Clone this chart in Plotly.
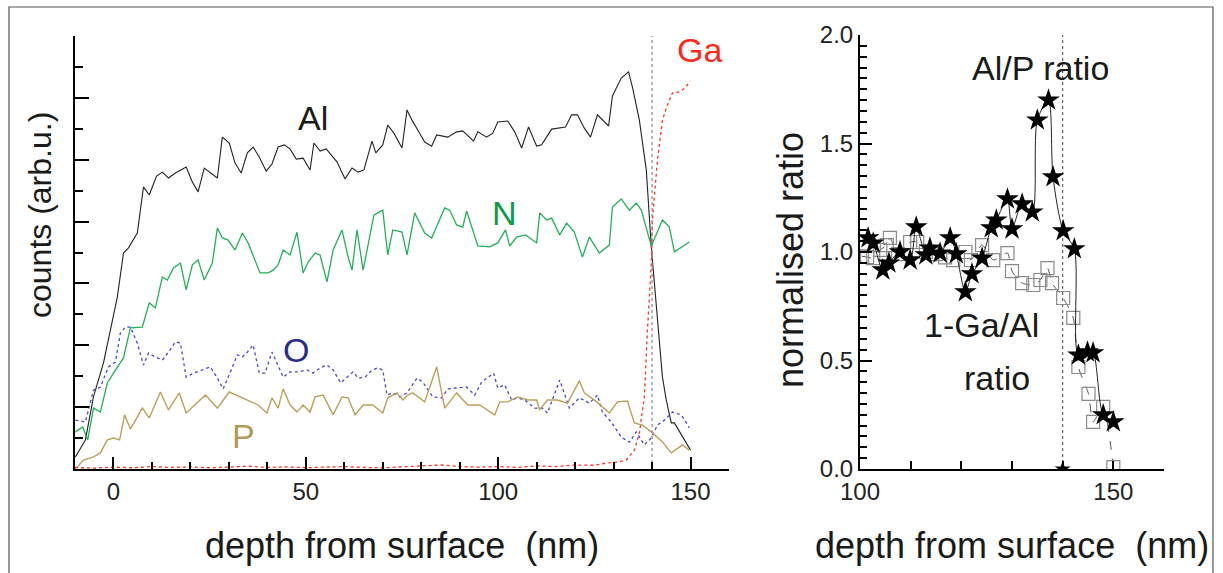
import plotly.graph_objects as go

# ---- left panel: depth profiles (counts, arb. units) ----
al_depth = [-9.9, -7.3, -5.2, -2.6, 1.0, 2.6, 3.9, 6.2, 7.8, 9.3, 11.2, 12.7, 14.3, 16.1, 18.9, 20.5, 22.0, 23.6,
            27.0, 28.3, 30.1, 31.6, 33.2, 34.8, 36.3, 37.9, 39.7, 41.2, 42.8, 44.4, 45.9, 47.5, 49.3, 51.1, 52.1,
            53.7, 55.3, 58.1, 60.2, 62.0, 63.6, 65.1, 67.2, 68.2, 70.0, 71.3, 72.9, 75.0, 76.3, 77.6, 79.1, 80.9,
            82.7, 84.0, 86.9, 89.2, 90.8, 93.6, 94.7, 97.0, 98.6, 99.9, 102.5, 104.3, 106.1, 107.9, 110.0, 111.3,
            113.9, 117.5, 119.1, 120.6, 122.4, 124.0, 125.8, 128.7, 129.7, 132.0, 133.9, 134.9, 136.7, 138.5,
            139.8, 142.7, 143.7, 145.0, 145.8, 147.9, 150.0]
al_counts = [0.39, 0.94, 2.33, 3.43, 5.56, 6.98, 7.15, 7.63, 9.12, 8.86, 9.47, 9.60, 9.41, 9.57, 9.76, 9.28, 8.96, 9.73,
             9.41, 10.73, 10.54, 9.89, 9.57, 10.22, 10.41, 10.09, 9.63, 9.86, 10.41, 10.48, 10.35, 10.02, 10.05, 9.67,
             10.54, 10.28, 10.35, 9.93, 9.38, 9.73, 9.60, 9.67, 10.60, 10.22, 10.48, 11.12, 10.86, 10.38, 11.61, 11.28,
             10.96, 10.57, 10.44, 10.80, 10.73, 10.90, 10.93, 10.60, 10.90, 10.73, 10.86, 11.22, 11.25, 10.90, 10.38,
             11.06, 10.44, 10.48, 10.99, 11.06, 11.45, 11.45, 11.02, 10.73, 11.45, 11.09, 12.06, 12.64, 12.84, 12.35,
             11.28, 9.67, 7.18, 2.97, 2.23, 1.49, 1.49, 1.03, 0.61]

n_depth = [-9.9, -8.0, -6.7, -5.2, -3.4, -1.6, 0.0, 2.6, 4.4, 7.5, 9.3, 10.9, 12.7, 14.0, 15.6, 17.4, 18.9, 20.5,
           22.0, 23.6, 25.7, 27.0, 28.3, 29.8, 31.6, 33.5, 35.0, 36.3, 38.1, 40.2, 41.5, 42.8, 44.1, 45.9, 47.7,
           49.3, 50.6, 52.4, 53.7, 55.5, 57.1, 59.4, 61.0, 62.0, 63.3, 64.9, 67.7, 70.0, 71.3, 72.6, 75.0, 76.3,
           78.3, 80.9, 82.7, 86.1, 87.4, 89.2, 90.8, 91.8, 94.7, 97.8, 99.9, 101.9, 103.0, 104.8, 107.1, 110.0,
           110.8, 112.6, 113.9, 116.0, 117.8, 119.8, 121.9, 123.7, 126.3, 128.9, 129.7, 132.0, 134.1, 135.9,
           137.2, 139.8, 142.7, 144.5, 145.8, 149.7]
n_counts = [1.20, 1.36, 0.94, 1.97, 1.84, 2.78, 3.10, 3.59, 4.56, 4.59, 5.37, 5.21, 6.21, 6.11, 6.50, 6.66, 5.79, 6.60,
            6.76, 6.11, 6.66, 7.79, 7.47, 7.40, 7.08, 7.63, 7.31, 6.92, 6.34, 6.34, 6.43, 6.60, 7.08, 6.92, 7.66,
            6.34, 6.69, 6.98, 6.92, 6.05, 7.08, 7.73, 6.85, 6.43, 7.73, 6.43, 8.21, 8.37, 6.92, 7.73, 7.66, 6.92,
            8.28, 7.63, 7.47, 8.44, 8.37, 7.89, 7.82, 8.34, 7.21, 7.18, 7.31, 7.73, 7.21, 7.50, 7.57, 7.31,
            8.28, 8.05, 8.11, 7.57, 7.95, 7.66, 6.85, 7.50, 6.98, 7.24, 8.47, 8.73, 8.37, 8.60,
            8.37, 7.21, 8.05, 7.82, 7.02, 7.34]

o_depth = [-9.9, -7.3, -5.2, -3.4, -1.3, 0.5, 1.8, 3.1, 4.4, 6.2, 7.8, 9.1, 10.9, 12.7, 14.3, 16.1, 17.4, 18.9,
           20.8, 23.1, 25.2, 27.0, 28.5, 30.4, 32.2, 33.5, 34.8, 36.3, 37.9, 39.4, 41.2, 42.5, 44.1, 45.9, 48.0,
           50.3, 51.9, 53.7, 55.5, 57.1, 59.1, 60.7, 62.3, 63.6, 65.4, 67.2, 68.7, 70.0, 71.1, 72.6, 74.4, 76.3,
           78.9, 80.4, 83.0, 85.3, 86.9, 89.2, 91.8, 93.9, 95.7, 98.8, 99.9, 101.7, 103.5, 105.1, 106.9, 109.5,
           111.5, 112.8, 116.0, 118.5, 121.1, 123.7, 125.8, 127.1, 129.4, 132.0, 134.1, 135.9, 138.0, 139.8,
           141.4, 143.2, 145.3, 147.6, 149.7]
o_counts = [1.58, 1.52, 2.55, 2.65, 3.30, 3.46, 4.40, 4.59, 4.59, 4.07, 3.36, 3.75, 3.62, 3.52, 3.78, 4.11, 4.07, 2.97,
            3.10, 3.20, 3.30, 2.94, 2.59, 3.14, 3.69, 3.62, 3.78, 4.01, 3.10, 3.10, 3.78, 3.43, 2.97, 3.14, 3.14,
            3.20, 3.10, 3.27, 3.36, 3.20, 2.78, 2.97, 3.14, 2.94, 2.97, 3.20, 3.27, 3.20, 2.39, 2.46, 2.33, 2.46,
            2.94, 2.81, 2.33, 2.30, 2.59, 2.62, 2.65, 2.39, 2.81, 3.10, 2.62, 2.72, 2.23, 2.30, 2.23, 1.97,
            1.97, 1.81, 2.88, 1.97, 2.30, 2.13, 2.39, 1.84, 1.52, 1.03, 0.87, 1.20, 0.78, 1.00,
            1.42, 1.58, 1.84, 1.75, 1.33]

p_depth = [-9.9, -7.8, -5.2, -3.4, -1.6, 0.0, 1.6, 2.9, 4.4, 7.5, 9.3, 12.2, 14.3, 17.1, 18.9, 21.8, 23.9, 27.0,
           30.1, 34.8, 37.6, 39.9, 41.2, 42.8, 44.1, 45.9, 47.7, 49.3, 51.1, 52.4, 54.5, 57.1, 59.4, 61.0, 62.8,
           64.9, 67.4, 70.0, 71.3, 73.7, 75.2, 76.5, 77.8, 80.9, 84.0, 86.1, 89.2, 92.1, 95.2, 99.1, 100.4, 102.5,
           105.1, 107.7, 110.0, 110.8, 112.8, 115.4, 118.0, 121.1, 122.4, 125.6, 128.9, 131.0, 133.6, 135.4, 137.5,
           139.8, 142.7, 145.0, 147.9, 149.7]
p_counts = [0.00, 0.29, 0.39, 0.52, 0.94, 1.00, 0.94, 1.75, 1.29, 1.97, 1.65, 2.49, 1.91, 2.46, 1.81, 2.13, 2.39, 1.97,
            2.49, 2.23, 2.07, 1.81, 2.30, 1.97, 2.59, 2.07, 1.84, 2.07, 1.84, 2.33, 2.39, 1.75, 2.33, 2.30, 1.75,
            2.07, 2.07, 1.81, 2.30, 2.46, 2.23, 2.39, 2.46, 2.17, 3.30, 1.97, 2.46, 2.07, 2.07, 1.75, 2.17, 2.17,
            2.33, 2.23, 2.23, 1.91, 2.23, 2.23, 2.13, 2.85, 2.46, 2.17, 1.81, 2.17, 2.20, 1.49, 1.42,
            1.20, 0.87, 0.52, 0.78, 0.61]

ga_depth = [-10, -5, 0, 5, 10, 15, 20, 25, 30, 35, 40, 45, 50, 55, 60, 65, 70, 75, 80, 85, 90, 95, 100, 105, 110,
            115, 120, 125, 128, 131, 133.3, 135.4, 136.7, 138.0, 138.8, 139.8, 140.1, 141.4, 142.7, 143.7, 145.3,
            147.1, 148.6, 149.9]
ga_counts = [0.05, 0.03, 0.06, 0.04, 0.08, 0.05, 0.07, 0.04, 0.06, 0.09, 0.05, 0.07, 0.04, 0.06, 0.08, 0.05, 0.04,
             0.07, 0.09, 0.13, 0.08, 0.06, 0.08, 0.05, 0.10, 0.08, 0.13, 0.12, 0.19, 0.22, 0.29, 0.61, 1.16, 2.33,
             4.49, 6.66, 8.05, 9.99, 11.28, 11.67, 12.16, 12.19, 12.32, 12.54]

interface_depth = 140

# ---- right panel: normalised ratios ----
alp_depth = [101.6, 102.6, 104.5, 105.7, 107.9, 109.9, 111.1, 113.0, 113.8, 115.8, 117.8, 119.0, 120.8, 122.1,
             124.1, 125.9, 126.9, 129.1, 130.0, 132.0, 134.0, 135.0, 137.2, 138.1, 140.1, 142.3, 143.1, 144.9,
             146.0, 148.0, 150.0]
alp_ratio = [1.065, 1.041, 0.917, 0.949, 1.000, 0.963, 1.115, 0.986, 1.018, 0.995, 1.065, 0.991, 0.816, 0.899,
             0.972, 1.111, 1.147, 1.244, 1.106, 1.221, 1.184, 1.608, 1.700, 1.346, 1.097, 1.014, 0.525, 0.539,
             0.535, 0.249, 0.217]

gaal_depth = [100.4, 101.4, 102.6, 104.0, 105.3, 105.9, 107.5, 109.9, 111.3, 113.0, 115.0, 116.8, 118.4, 120.8,
              121.9, 124.1, 126.3, 129.1, 130.0, 132.0, 134.2, 135.6, 137.0, 137.9, 140.1, 142.1, 143.1, 145.1,
              146.0, 148.0, 150.0]
gaal_ratio = [0.98, 0.977, 0.972, 1.01, 1.032, 1.065, 0.99, 1.046, 1.046, 1.0, 0.99, 0.975, 0.963, 1.000,
              0.963, 1.032, 0.963, 0.995, 0.912, 0.857, 0.848, 0.871, 0.926, 0.857, 0.788, 0.696, 0.470, 0.346,
              0.217, 0.286, 0.009]

FONT = "Liberation Sans, Arial, sans-serif"
W, H = 1223, 573

fig = go.Figure()

# left panel traces
fig.add_trace(go.Scatter(x=al_depth, y=al_counts, mode="lines", line=dict(color="#222222", width=1.1),
                         xaxis="x", yaxis="y"))
fig.add_trace(go.Scatter(x=n_depth, y=n_counts, mode="lines", line=dict(color="#22b158", width=1.3),
                         xaxis="x", yaxis="y"))
fig.add_trace(go.Scatter(x=o_depth, y=o_counts, mode="lines", line=dict(color="#4848c8", width=1.3, dash="dot"),
                         xaxis="x", yaxis="y"))
fig.add_trace(go.Scatter(x=p_depth, y=p_counts, mode="lines", line=dict(color="#b9a05c", width=1.4),
                         xaxis="x", yaxis="y"))
fig.add_trace(go.Scatter(x=ga_depth, y=ga_counts, mode="lines", line=dict(color="#ff3322", width=1.3, dash="dot"),
                         xaxis="x", yaxis="y"))
fig.add_trace(go.Scatter(x=[interface_depth, interface_depth], y=[0, 14], mode="lines",
                         line=dict(color="#888888", width=1.2, dash="dot"), xaxis="x", yaxis="y"))

# right panel traces
fig.add_trace(go.Scatter(x=[interface_depth, interface_depth], y=[0, 2], mode="lines",
                         line=dict(color="#555555", width=1.1, dash="dot"), xaxis="x2", yaxis="y2"))
fig.add_trace(go.Scatter(x=gaal_depth, y=gaal_ratio, mode="lines+markers",
                         line=dict(color="#555555", width=1, dash="dash", shape="spline", smoothing=0.6),
                         marker=dict(symbol="square-open", size=13, color="#8a8a8a", line=dict(width=1.2)),
                         xaxis="x2", yaxis="y2"))
fig.add_trace(go.Scatter(x=alp_depth, y=alp_ratio, mode="lines+markers",
                         line=dict(color="#222222", width=1, shape="spline", smoothing=0.8),
                         marker=dict(symbol="star", size=17, color="black"),
                         xaxis="x2", yaxis="y2"))
fig.add_trace(go.Scatter(x=[interface_depth], y=[0], mode="markers",
                         marker=dict(symbol="star", size=12, color="black"), xaxis="x2", yaxis="y2"))

axis_common = dict(showline=True, linecolor="black", linewidth=2, ticks="inside", tickcolor="black",
                   tickwidth=2, showgrid=False, zeroline=False, mirror=False, automargin=False,
                   tickfont=dict(family=FONT, size=24, color="#222222"))

fig.update_layout(
    width=W, height=H, autosize=False,
    margin=dict(l=0, r=0, t=0, b=0, pad=0, autoexpand=False),
    paper_bgcolor="white", plot_bgcolor="white",
    showlegend=False,
    font=dict(family=FONT, color="#222222"),
    xaxis=dict(domain=[75 / W, 729 / W], range=[-10, 160], tickvals=[0, 50, 100, 150], ticklen=12,
               minor=dict(dtick=10, tick0=0, ticklen=7, ticks="inside", tickcolor="black", tickwidth=2),
               anchor="y", **axis_common),
    yaxis=dict(domain=[(H - 469) / H, (H - 36) / H], range=[0, 14], dtick=2, ticklen=14, showticklabels=False,
               minor=dict(dtick=1, ticklen=8, ticks="inside", tickcolor="black", tickwidth=2),
               anchor="x", **axis_common),
    xaxis2=dict(domain=[860 / W, 1164 / W], range=[100, 160], tickvals=[100, 150], ticklen=8,
                minor=dict(dtick=10, tick0=100, ticklen=8, ticks="inside", tickcolor="black", tickwidth=2),
                anchor="y2", **axis_common),
    yaxis2=dict(domain=[(H - 469) / H, (H - 35) / H], range=[0, 2.0], dtick=0.5, tickformat=".1f", ticklen=12,
                minor=dict(dtick=0.05, ticklen=7, ticks="inside", tickcolor="black", tickwidth=1.5),
                anchor="x2", **axis_common),
)

def label(text, x, y, size=34, color="#1a1a1a", angle=0, ref=("paper", "paper"), xanchor="center"):
    fig.add_annotation(text=text, x=x, y=y, xref=ref[0], yref=ref[1], showarrow=False, textangle=angle,
                       xanchor=xanchor, yanchor="middle", font=dict(family=FONT, size=size, color=color))

# axis titles
label("counts (arb.u.)", 40 / W, (H - 215) / H, size=32, angle=-90)
label("depth from surface  (nm)", 402 / W, (H - 545) / H, size=36)
label("normalised ratio", 790 / W, (H - 260) / H, size=36, angle=-90)
label("depth from surface  (nm)", 1012 / W, (H - 545) / H, size=36)

# series labels (left)
label("Al", 51.9, 11.35, color="#1a1a1a", ref=("x", "y"))
label("N", 101.7, 8.28, color="#0a9a48", ref=("x", "y"))
label("O", 47.5, 3.85, color="#2a2a90", ref=("x", "y"))
label("P", 33.7, 1.07, color="#b09a58", ref=("x", "y"))
label("Ga", 152.3, 13.55, color="#ff2a1a", ref=("x", "y"))

# series labels (right)
label("Al/P ratio", 135.6, 1.85, ref=("x2", "y2"))
label("1-Ga/Al", 123.9, 0.664, ref=("x2", "y2"))
label("ratio", 127.1, 0.42, ref=("x2", "y2"))

# outer frame
fig.add_shape(type="rect", xref="paper", yref="paper", x0=9 / W, x1=1213 / W, y0=-0.02, y1=(H - 7) / H,
              line=dict(color="#555555", width=1.2), layer="below")

# drop the default page margin so the figure sits at the window origin
fig.write_html("out.html", config={"displayModeBar": False},
               post_script="document.body.style.margin='0';")
